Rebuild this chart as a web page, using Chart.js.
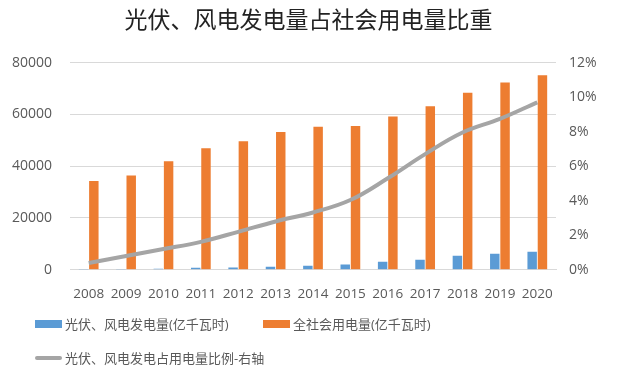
<!DOCTYPE html>
<html>
<head>
<meta charset="utf-8">
<script src="https://cdn.jsdelivr.net/npm/chart.js@4"></script>
<style>
  body { margin: 0; background: #fff; }
  #wrap { position: relative; width: 617px; height: 376px; }
  #legend { position: absolute; left: 35px; top: 314px; font: 13px "Open Sans", "Noto Sans CJK SC", sans-serif; color: #595959; }
  .item { position: absolute; white-space: nowrap; display: flex; align-items: center; }
  .sw { display: inline-block; width: 27px; margin-right: 3px; }
</style>
</head>
<body>
<div id="wrap">
  <canvas id="c" width="617" height="376"></canvas>
  <div id="legend"></div>
</div>
<script>
const years = ['2008','2009','2010','2011','2012','2013','2014','2015','2016','2017','2018','2019','2020'];
const windSolar = [150, 280, 450, 770, 850, 1200, 1550, 2050, 3150, 3900, 5400, 6200, 7000];
const totalUse = [34300, 36400, 41900, 46900, 49600, 53200, 55200, 55500, 59200, 63100, 68400, 72300, 75100];
const ratio = [0.39, 0.8, 1.2, 1.62, 2.2, 2.8, 3.32, 4.04, 5.3, 6.7, 7.95, 8.74, 9.7];

const fontFam = '"Open Sans", "Noto Sans CJK SC", sans-serif';
const grey = '#595959';

const datasets = [
  { type: 'bar', label: '光伏、风电发电量(亿千瓦时)', data: windSolar, backgroundColor: '#5B9BD5', yAxisID: 'y', order: 2 },
  { type: 'bar', label: '全社会用电量(亿千瓦时)', data: totalUse, backgroundColor: '#ED7D31', yAxisID: 'y', order: 2 },
  { type: 'line', label: '光伏、风电发电占用电量比例-右轴', data: ratio, borderColor: '#A5A5A5', backgroundColor: '#A5A5A5',
    borderWidth: 4, pointRadius: 0, tension: 0.4, yAxisID: 'y1', order: 1 }
];

new Chart(document.getElementById('c'), {
  data: { labels: years, datasets },
  options: {
    responsive: false,
    animation: false,
    layout: { padding: { left: 0, right: 0, top: 8, bottom: 66 } },
    datasets: { bar: { categoryPercentage: 0.55, barPercentage: 0.92 } },
    plugins: {
      legend: { display: false },
      tooltip: { enabled: false },
      title: {
        display: true,
        text: '光伏、风电发电量占社会用电量比重',
        color: '#222',
        font: { family: fontFam, size: 23, weight: 'normal' },
        padding: { top: 0, bottom: 27 }
      }
    },
    scales: {
      x: {
        grid: { display: false },
        border: { color: '#d9d9d9' },
        ticks: { color: grey, font: { family: fontFam, size: 13.5 }, maxRotation: 0, autoSkip: false, padding: 8 }
      },
      y: {
        position: 'left',
        min: 0, max: 80000,
        afterFit: s => { s.width = 70; },
        ticks: { stepSize: 20000, color: grey, font: { family: fontFam, size: 14 }, padding: 18,
          callback: v => String(v) },
        grid: { color: '#d9d9d9', drawTicks: false },
        border: { display: false }
      },
      y1: {
        position: 'right',
        min: 0, max: 12,
        afterFit: s => { s.width = 61; },
        ticks: { stepSize: 2, color: grey, font: { family: fontFam, size: 14 }, padding: 13,
          callback: v => v + '%' },
        grid: { display: false, drawTicks: false },
        border: { display: false }
      }
    }
  }
});

// legend laid out like the original (two rows)
const legendPos = [[0, 0], [228, 0], [0, 34]];
const lg = document.getElementById('legend');
datasets.forEach((d, i) => {
  const el = document.createElement('div');
  el.className = 'item';
  el.style.left = legendPos[i][0] + 'px';
  el.style.top = legendPos[i][1] + 'px';
  const sw = document.createElement('span');
  sw.className = 'sw';
  sw.style.background = d.type === 'bar' ? d.backgroundColor : d.borderColor;
  sw.style.height = d.type === 'bar' ? '8px' : '4px';
  if (d.type === 'line') sw.style.borderRadius = '2px';
  el.appendChild(sw);
  el.appendChild(document.createTextNode(d.label));
  lg.appendChild(el);
});
</script>
</body>
</html>
